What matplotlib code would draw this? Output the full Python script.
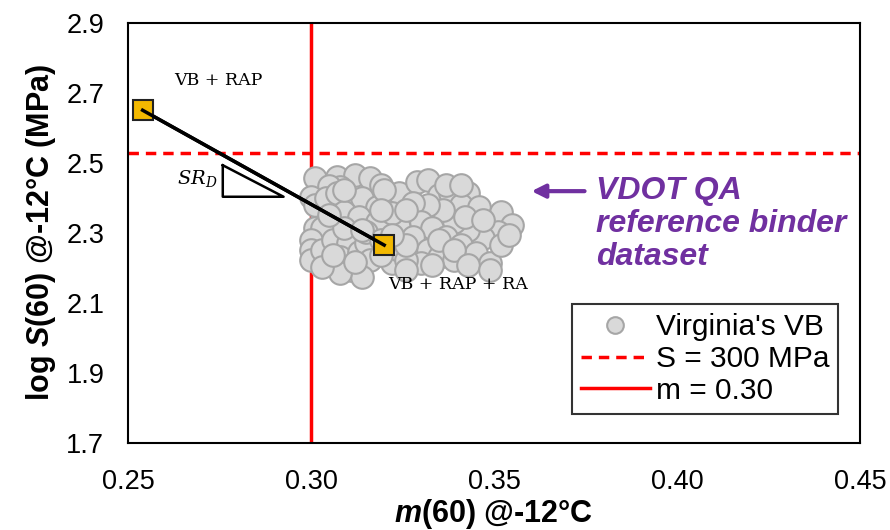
import matplotlib.pyplot as plt
from matplotlib.lines import Line2D

plt.rcParams['font.family'] = ['Liberation Sans', 'DejaVu Sans']
plt.rcParams['mathtext.fontset'] = 'custom'
plt.rcParams['mathtext.it'] = 'DejaVu Serif:italic'
plt.rcParams['mathtext.rm'] = 'DejaVu Serif'
plt.rcParams['mathtext.bfit'] = 'Liberation Sans:bold:italic'

# Virginia's VB reference binders (m-value, log S)
vb_m = [0.301, 0.307, 0.312, 0.316, 0.308, 0.305, 0.300, 0.301, 0.304, 0.307,
        0.311, 0.314, 0.318, 0.322, 0.324, 0.309, 0.313, 0.301, 0.303, 0.300,
        0.300, 0.300, 0.303, 0.306, 0.310, 0.308, 0.313, 0.315, 0.316, 0.311,
        0.314, 0.308, 0.303, 0.322, 0.324, 0.324, 0.318, 0.322, 0.329, 0.332,
        0.335, 0.338, 0.343, 0.341, 0.346, 0.352, 0.355, 0.351, 0.347, 0.343,
        0.339, 0.336, 0.332, 0.328, 0.330, 0.333, 0.337, 0.341, 0.345, 0.349,
        0.328, 0.332, 0.335, 0.339, 0.330, 0.326, 0.319, 0.315, 0.309, 0.319,
        0.326, 0.309, 0.320, 0.326, 0.319, 0.305, 0.314, 0.322, 0.319, 0.312,
        0.306, 0.326, 0.335, 0.342, 0.347, 0.339, 0.352, 0.343, 0.333, 0.337,
        0.341, 0.349, 0.354]
vb_logS = [2.456, 2.459, 2.465, 2.456, 2.431, 2.435, 2.402, 2.379, 2.399, 2.413,
           2.388, 2.399, 2.373, 2.393, 2.413, 2.359, 2.345, 2.313, 2.313, 2.279,
           2.251, 2.222, 2.251, 2.279, 2.270, 2.231, 2.245, 2.270, 2.222, 2.193,
           2.173, 2.185, 2.202, 2.213, 2.251, 2.316, 2.331, 2.356, 2.445, 2.451,
           2.408, 2.413, 2.413, 2.379, 2.373, 2.359, 2.322, 2.302, 2.285, 2.308,
           2.331, 2.365, 2.379, 2.385, 2.331, 2.313, 2.288, 2.265, 2.242, 2.213,
           2.288, 2.251, 2.231, 2.222, 2.213, 2.222, 2.436, 2.302, 2.313, 2.279,
           2.265, 2.422, 2.422, 2.365, 2.365, 2.351, 2.308, 2.294, 2.237, 2.217,
           2.237, 2.193, 2.279, 2.345, 2.336, 2.251, 2.265, 2.208, 2.208, 2.436,
           2.436, 2.193, 2.293]

# blends: VB + RAP and VB + RAP + RA
blend_m = [0.254, 0.320]
blend_logS = [2.650, 2.265]

m_limit = 0.30
S_limit = 2.527

fig = plt.figure(figsize=(8.9, 5.3), dpi=100)
ax = fig.add_axes([0.1438, 0.1642, 0.8225, 0.793])

ax.scatter(vb_m, vb_logS, s=265, facecolor='#D9D9D9', edgecolor='#A6A6A6',
           linewidth=1.5, zorder=3)
ax.axhline(S_limit, color='#FF0000', linestyle=(0, (3, 2)), lw=2.5, zorder=2)
ax.axvline(m_limit, color='#FF0000', lw=2.5, zorder=2)
ax.plot(blend_m, blend_logS, color='black', lw=2.5, marker='s', markersize=14,
        markerfacecolor='#F2B800', markeredgecolor='#222222', markeredgewidth=1.5,
        zorder=5)
ax.plot(blend_m, blend_logS, color='black', lw=2.5, zorder=6)

# slope triangle
ax.plot([0.2759, 0.2759, 0.2925, 0.2759], [2.493, 2.403, 2.403, 2.493],
        color='black', lw=1.8, zorder=4)
ax.text(0.2745, 2.455, r'$SR_D$', fontsize=14, ha='right', va='center')

ax.text(0.2746, 2.736, 'VB + RAP', family='DejaVu Serif', fontsize=12.5,
        ha='center', va='center')
ax.text(0.3402, 2.153, 'VB + RAP + RA', family='DejaVu Serif', fontsize=12.5,
        ha='center', va='center', zorder=7)

ax.text(0.3778, 2.325, 'VDOT QA\nreference binder\ndataset', color='#7030A0',
        fontsize=23, fontweight='bold', fontstyle='italic', ha='left',
        va='center', linespacing=1.12)
ax.annotate('', xy=(0.3595, 2.419), xytext=(0.3755, 2.419),
            arrowprops=dict(arrowstyle='-|>,head_length=0.8,head_width=0.4',
                            color='#7030A0', lw=3))

ax.set_xlim(0.25, 0.45)
ax.set_ylim(1.7, 2.9)
ax.set_xticks([0.25, 0.30, 0.35, 0.40, 0.45])
ax.set_xticklabels(['0.25', '0.30', '0.35', '0.40', '0.45'])
ax.set_yticks([1.7, 1.9, 2.1, 2.3, 2.5, 2.7, 2.9])
ax.tick_params(length=0, labelsize=19.5)
ax.tick_params(axis='x', pad=19)
ax.tick_params(axis='y', pad=17)
for sp in ax.spines.values():
    sp.set_linewidth(1.5)

ax.set_xlabel(r'$\mathbfit{m}$(60) @-12°C', fontsize=22, fontweight='bold',
              labelpad=1)
ax.set_ylabel(r'log $\mathbfit{S}$(60) @-12°C (MPa)', fontsize=22,
              fontweight='bold', labelpad=6)

handles = [
    Line2D([], [], ls='none', marker='o', markersize=12, markerfacecolor='#D9D9D9',
           markeredgecolor='#A6A6A6', markeredgewidth=1.5),
    Line2D([], [], color='#FF0000', ls=(0, (3, 2)), lw=2.5),
    Line2D([], [], color='#FF0000', lw=2.5),
]
leg = ax.legend(handles, ["Virginia's VB", 'S = 300 MPa', 'm = 0.30'],
                loc='lower right', bbox_to_anchor=(0.97, 0.07), fontsize=21.5,
                frameon=True, fancybox=False, edgecolor='black',
                handlelength=2.3, handletextpad=0.2, borderpad=0.3,
                labelspacing=0.12, borderaxespad=0)
leg.get_frame().set_linewidth(1.5)

fig.savefig('out.png', dpi=100)
